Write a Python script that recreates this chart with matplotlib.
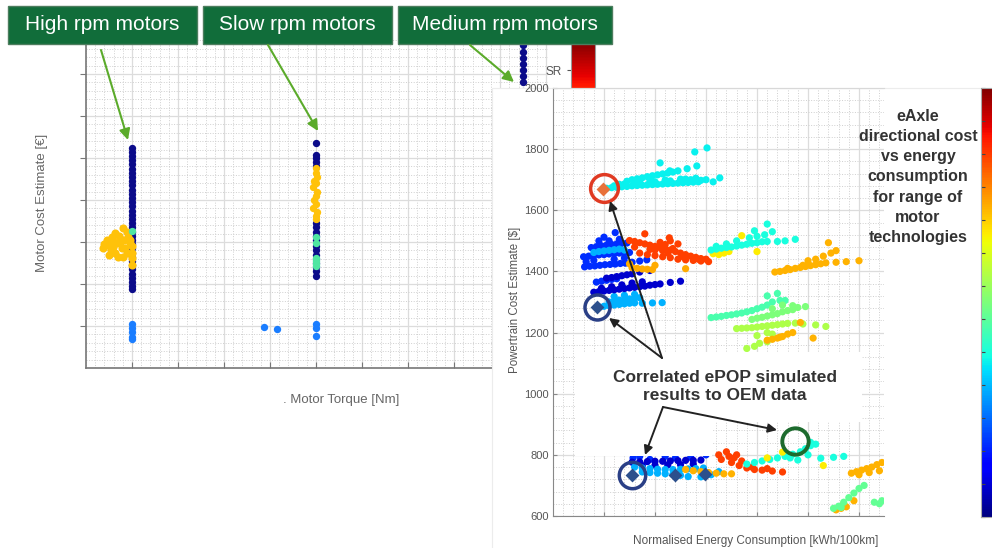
import numpy as np
import matplotlib.pyplot as plt
from matplotlib.patches import Rectangle
from matplotlib.ticker import AutoMinorLocator
from matplotlib.cm import ScalarMappable
from matplotlib.colors import Normalize

W, H = 992, 548
plt.rcParams['font.family'] = ['Liberation Sans', 'DejaVu Sans']

# ---------------- left chart: motor cost vs motor torque ----------------
high_torque, slow_torque, medium_torque = 1.0, 5.0, 9.5

high_navy_cost = [5.25, 5.15, 5.05, 4.95, 4.85, 4.75, 4.65, 4.55, 4.45, 4.35, 4.25,
                  4.15, 4.05, 3.95, 3.85, 3.75, 3.65, 3.55, 3.45, 3.35, 3.25, 3.15,
                  3.05, 2.95, 2.85, 2.75, 2.65, 2.55, 2.45, 2.35, 2.25, 2.15, 2.05,
                  1.95, 1.87]
high_gold_torque = [0.37, 0.48, 0.57, 0.63, 0.80, 0.74, 0.63, 0.50, 0.70, 0.85, 0.91,
                    0.96, 1.00, 1.00, 0.89, 0.78, 0.46, 0.59, 1.00, 1.00, 0.40, 0.55,
                    0.67, 0.72, 0.82, 0.60, 0.90, 0.80, 0.95]
high_gold_cost = [2.86, 2.93, 3.12, 3.21, 3.33, 3.00, 2.74, 2.69, 2.64, 2.86, 3.12,
                  2.98, 2.74, 2.45, 3.24, 2.86, 3.05, 2.88, 2.90, 2.62, 2.95, 2.80,
                  2.98, 3.15, 3.05, 3.00, 2.75, 2.65, 3.05]
high_mint_cost = [3.26]
high_blue_cost = [1.05, 0.95, 0.85, 0.75, 0.68]

slow_navy_cost = [5.36, 5.07, 5.00, 4.90, 4.82, 3.45, 3.35, 3.25, 3.15, 3.05, 2.90,
                  2.80, 2.70, 2.60, 2.50, 2.40, 2.30, 2.20]
slow_gold_torque = [5.00, 5.00, 5.02, 4.95, 5.00, 4.93, 5.03, 5.00, 4.95, 5.00, 4.93,
                    5.02, 5.00, 5.00]
slow_gold_cost = [4.76, 4.65, 4.55, 4.45, 4.40, 4.30, 4.20, 4.10, 4.00, 3.90, 3.80,
                  3.72, 3.62, 3.54]
slow_mint_cost = [3.12, 2.98, 2.62, 2.55, 2.48, 2.42]
slow_blue_torque = [5.0, 5.0, 5.0, 3.87, 4.15]
slow_blue_cost = [1.05, 0.95, 0.76, 0.98, 0.93]

medium_navy_cost = [7.69, 7.52, 7.38, 7.24, 7.10, 6.95, 6.81, 6.60, 6.40]

# ---------------- right chart: powertrain cost vs energy ----------------
cyan_top_x = [1.05, 1.15, 1.25, 1.35, 1.45, 1.55, 1.65, 1.75, 1.85, 1.95, 2.05, 2.15,
              2.25, 2.35, 2.45, 2.55, 2.65, 2.75, 2.85, 1.45, 1.55, 1.65, 1.75, 1.85,
              1.95, 2.05, 2.15, 2.25, 2.35, 2.45, 2.10, 2.29, 2.63, 2.82, 2.78, 3.02,
              3.27, 3.14, 2.60, 2.70, 1.30, 1.60, 1.90, 2.20, 2.50, 2.80, 3.00,
              1.20, 1.40, 1.70, 2.00, 2.30, 2.60, 2.90]
cyan_top_y = [1672, 1674, 1675, 1677, 1678, 1680, 1681, 1682, 1683, 1684, 1685, 1686,
              1687, 1688, 1689, 1690, 1691, 1692, 1693, 1695, 1700, 1703, 1706, 1710,
              1713, 1716, 1719, 1722, 1725, 1729, 1755, 1729, 1736, 1745, 1791, 1804,
              1706, 1693, 1702, 1700, 1685, 1690, 1695, 1699, 1702, 1705, 1700,
              1680, 1686, 1691, 1693, 1696, 1697, 1698]

blue_mid_x = [0.60, 0.70, 0.80, 0.90, 1.00, 1.10, 1.20, 1.30, 1.40, 1.50, 0.75, 0.85,
              0.95, 1.05, 1.15, 1.25, 1.35, 1.45, 0.62, 0.72, 0.82, 0.92, 1.02, 1.12,
              1.22, 1.32, 1.42, 1.55, 1.70, 1.84, 1.22, 1.00, 1.10, 0.90, 1.30, 0.85,
              0.95, 1.05, 1.15, 1.25, 0.65, 0.80, 1.20, 1.40]
blue_mid_y = [1448, 1450, 1452, 1454, 1455, 1457, 1458, 1460, 1461, 1462, 1478, 1481,
              1484, 1486, 1488, 1490, 1492, 1493, 1415, 1417, 1418, 1420, 1422, 1423,
              1424, 1426, 1427, 1430, 1434, 1438, 1527, 1512, 1500, 1500, 1505, 1365,
              1368, 1371, 1374, 1376, 1432, 1436, 1440, 1444]

light_blue_x = [0.80, 0.90, 1.00, 1.10, 1.20, 1.30, 1.40, 0.90, 1.00, 1.10, 1.20, 1.30,
                1.40, 1.50, 1.60, 1.75, 1.95, 2.14, 1.10, 1.20, 1.30, 1.40, 1.50, 1.60,
                1.70, 1.20, 1.40, 1.60]
light_blue_y = [1462, 1465, 1467, 1469, 1471, 1473, 1470, 1284, 1286, 1288, 1290, 1292,
                1294, 1296, 1297, 1296, 1297, 1298, 1300, 1303, 1306, 1308, 1310, 1312,
                1314, 1318, 1322, 1325]

navy_mid_x = [0.80, 0.90, 1.00, 1.10, 1.20, 1.30, 1.40, 1.50, 1.60, 1.70, 1.80, 1.90,
              2.00, 2.10, 2.30, 2.50, 1.05, 1.15, 1.25, 1.35, 1.45, 1.55, 1.70, 1.90,
              0.95, 1.15, 1.35, 1.55, 1.75]
navy_mid_y = [1332, 1334, 1336, 1338, 1340, 1342, 1344, 1346, 1348, 1350, 1352, 1355,
              1357, 1359, 1364, 1368, 1378, 1380, 1383, 1386, 1389, 1392, 1398, 1403,
              1345, 1350, 1356, 1362, 1366]

red_mid_x = [1.50, 1.60, 1.70, 1.80, 1.90, 2.00, 2.10, 2.20, 2.30, 2.40, 2.50, 2.60,
             2.70, 2.80, 2.90, 3.00, 3.05, 1.80, 2.28, 2.10, 2.30, 2.45, 2.20, 1.70,
             1.85, 2.00, 2.15, 2.30, 2.45, 2.60, 2.75, 2.90, 2.00, 2.15, 2.35,
             1.60, 1.90, 2.25, 2.55, 2.85]
red_mid_y = [1501, 1498, 1494, 1490, 1486, 1482, 1478, 1474, 1470, 1465, 1460, 1455,
             1450, 1446, 1442, 1440, 1432, 1523, 1510, 1495, 1500, 1490, 1488, 1460,
             1455, 1452, 1448, 1445, 1440, 1438, 1436, 1434, 1470, 1468, 1475,
             1480, 1472, 1460, 1448, 1440]

orange_mid_x = [1.55, 1.65, 1.75, 1.85, 1.95, 2.60, 2.00, 1.50]
orange_mid_y = [1412, 1410, 1408, 1407, 1406, 1409, 1420, 1425]

cyan_mid_x = [3.10, 3.20, 3.30, 3.40, 3.50, 3.60, 3.70, 3.80, 3.90, 4.00, 4.10, 4.20,
              4.40, 4.55, 4.75, 3.85, 4.00, 4.15, 4.30, 4.20, 3.95, 3.60, 3.40, 3.20]
cyan_mid_y = [1470, 1473, 1476, 1478, 1480, 1483, 1486, 1489, 1492, 1494, 1497, 1498,
              1498, 1500, 1505, 1510, 1515, 1520, 1530, 1555, 1533, 1500, 1490, 1482]

yellow_mid_x = [3.14, 3.25, 3.35, 3.45, 3.70, 4.00]
yellow_mid_y = [1458, 1455, 1460, 1465, 1517, 1465]

orange_right_x = [4.35, 4.45, 4.55, 4.65, 4.75, 4.85, 4.95, 5.05, 5.15, 5.25, 5.35,
                  5.00, 5.15, 5.30, 5.45, 5.55, 5.40, 5.55, 5.75, 6.00, 4.60, 4.90]
orange_right_y = [1398, 1400, 1403, 1406, 1410, 1413, 1416, 1419, 1422, 1425, 1428,
                  1435, 1440, 1450, 1460, 1468, 1494, 1430, 1432, 1435, 1410, 1420]

aqua_x = [3.10, 3.20, 3.30, 3.40, 3.50, 3.60, 3.70, 3.80, 3.90, 4.00, 4.10, 4.20,
          4.30, 4.45, 4.40, 4.20, 4.55]
aqua_y = [1249, 1251, 1253, 1256, 1258, 1261, 1264, 1268, 1272, 1278, 1283, 1290,
          1300, 1305, 1328, 1320, 1305]

green_x = [3.90, 4.00, 4.10, 4.20, 4.30, 4.40, 4.50, 4.60, 4.70, 4.80, 4.95, 4.50,
           4.70, 4.30]
green_y = [1243, 1247, 1250, 1254, 1258, 1262, 1268, 1272, 1275, 1282, 1285, 1290,
           1288, 1278]

lime_x = [3.60, 3.70, 3.80, 3.90, 4.00, 4.10, 4.20, 4.30, 4.40, 4.50, 4.60, 4.75,
          4.90, 5.15, 5.35, 4.20, 4.00, 4.30, 3.95, 3.80, 4.20, 4.05]
lime_y = [1213, 1214, 1215, 1216, 1218, 1220, 1222, 1224, 1226, 1228, 1230, 1231,
          1228, 1225, 1220, 1200, 1190, 1195, 1155, 1148, 1170, 1165]

orange_low_x = [4.20, 4.30, 4.40, 4.50, 4.60, 4.70, 4.85, 5.10, 4.45]
orange_low_y = [1175, 1178, 1182, 1187, 1195, 1200, 1233, 1182, 1185]

navy_low_x = [1.55, 1.70, 1.85, 2.00, 2.15, 2.30, 2.45, 2.60, 2.75, 2.90, 2.75, 2.50,
              2.25, 2.00, 1.75]
navy_low_y = [776, 777, 778, 779, 779, 780, 781, 782, 782, 783, 770, 768, 767, 766, 765]

light_blue_low_x = [1.60, 1.75, 1.90, 2.05, 2.20, 2.35, 2.50, 2.65, 2.80, 2.95, 1.75,
                    1.90, 2.05, 2.20, 2.35, 2.50, 2.65, 2.90, 3.10, 3.25]
light_blue_low_y = [760, 757, 755, 753, 752, 752, 753, 754, 755, 757, 744, 742, 740,
                    738, 736, 733, 729, 728, 735, 745]

blue_low_x = [1.57, 1.90, 2.40, 2.20, 2.70, 3.00, 1.70]
blue_low_y = [790, 785, 790, 795, 792, 800, 795]

orange_bot_x = [2.60, 2.75, 2.90, 3.05, 3.20, 3.35, 3.50]
orange_bot_y = [752, 748, 745, 742, 740, 738, 738]

red_low_x = [3.25, 3.40, 3.55, 3.70, 3.50, 3.65, 3.80, 3.95, 4.10, 4.30, 4.50, 3.30,
             3.45, 3.90, 4.20, 3.60]
red_low_y = [800, 810, 790, 780, 775, 765, 757, 752, 750, 747, 744, 785, 795, 760,
             755, 800]

cyan_low_x = [3.80, 3.95, 4.10, 4.25, 4.40, 4.55, 4.70, 4.85, 4.95, 5.05, 5.15, 4.65,
              5.00, 5.25, 5.50, 5.70, 4.80, 5.05]
cyan_low_y = [770, 775, 780, 785, 790, 795, 802, 810, 820, 830, 835, 790, 800, 789,
              792, 795, 783, 841]

yellow_low_x = [4.50, 5.30, 4.20]
yellow_low_y = [809, 765, 790]

orange_edge_x = [5.85, 5.95, 6.05, 6.15, 6.25, 6.35, 6.45, 6.00, 6.20, 6.40, 5.55,
                 5.65, 5.75, 5.90, 5.70]
orange_edge_y = [740, 745, 750, 755, 760, 768, 775, 735, 742, 748, 620, 625, 630,
                 650, 640]

mint_edge_x = [5.50, 5.60, 5.70, 5.80, 5.90, 6.00, 6.10, 6.30, 6.45, 5.65, 6.40]
mint_edge_y = [625, 632, 645, 660, 675, 690, 700, 645, 650, 628, 640]

# OEM reference points
oem_blue_x = [0.86, 1.55, 2.40, 2.98]
oem_blue_y = [1284, 734, 734, 738]
oem_orange_x = [0.98]
oem_orange_y = [1670]

clusters = [
    (blue_mid_x, blue_mid_y, 0.17), (light_blue_x, light_blue_y, 0.30),
    (navy_mid_x, navy_mid_y, 0.07), (orange_mid_x, orange_mid_y, 0.73),
    (red_mid_x, red_mid_y, 0.84), (cyan_top_x, cyan_top_y, 0.36),
    (yellow_mid_x, yellow_mid_y, 0.66), (cyan_mid_x, cyan_mid_y, 0.38),
    (orange_right_x, orange_right_y, 0.72), (aqua_x, aqua_y, 0.44),
    (green_x, green_y, 0.50), (lime_x, lime_y, 0.56),
    (orange_low_x, orange_low_y, 0.72), (blue_low_x, blue_low_y, 0.17),
    (navy_low_x, navy_low_y, 0.07), (light_blue_low_x, light_blue_low_y, 0.30),
    (orange_bot_x, orange_bot_y, 0.72), (red_low_x, red_low_y, 0.84),
    (cyan_low_x, cyan_low_y, 0.38), (yellow_low_x, yellow_low_y, 0.66),
    (orange_edge_x, orange_edge_y, 0.72), (mint_edge_x, mint_edge_y, 0.47),
]


def px_rect(x0, y0, x1, y1):
    return [x0 / W, 1 - y1 / H, (x1 - x0) / W, (y1 - y0) / H]


def style_grid(ax):
    ax.xaxis.set_minor_locator(AutoMinorLocator(5))
    ax.yaxis.set_minor_locator(AutoMinorLocator(5))
    ax.grid(which='major', color='#dcdcdc', lw=0.9)
    ax.grid(which='minor', color='#cfcfcf', lw=0.7, ls=':')
    ax.set_axisbelow(True)
    ax.tick_params(which='minor', length=0)


fig = plt.figure(figsize=(W / 100, H / 100), dpi=100)

# left chart
axl = fig.add_axes(px_rect(86, 40, 548, 368), zorder=1)
axl.set_xlim(0, 10.04)
axl.set_ylim(0, 7.81)
axl.set_xticks(range(1, 11))
axl.set_yticks(range(1, 8))
axl.set_xticklabels([])
axl.set_yticklabels([])
style_grid(axl)
for s in ['top', 'right']:
    axl.spines[s].set_visible(False)
for s in ['left', 'bottom']:
    axl.spines[s].set_color('#777777')
    axl.spines[s].set_linewidth(1.2)
axl.tick_params(axis='y', which='major', direction='out', length=4, color='#777777')
axl.tick_params(axis='x', which='major', direction='in', length=4, color='#777777')

navy, gold, mint, blue = '#0b0b8a', '#ffc20a', '#4fe6a2', '#1a7dff'
ms = 28
axl.scatter([high_torque] * len(high_navy_cost), high_navy_cost, s=ms, c=navy, lw=0)
axl.scatter(high_gold_torque, high_gold_cost, s=ms + 6, c=gold, lw=0)
axl.scatter([high_torque] * len(high_mint_cost), high_mint_cost, s=ms, c=mint, lw=0)
axl.scatter([high_torque] * len(high_blue_cost), high_blue_cost, s=ms, c=blue, lw=0)
axl.scatter([slow_torque] * len(slow_navy_cost), slow_navy_cost, s=ms, c=navy, lw=0)
axl.scatter(slow_gold_torque, slow_gold_cost, s=ms, c=gold, lw=0)
axl.scatter([slow_torque] * len(slow_mint_cost), slow_mint_cost, s=ms, c=mint, lw=0)
axl.scatter(slow_blue_torque, slow_blue_cost, s=ms, c=blue, lw=0)
axl.scatter([medium_torque] * len(medium_navy_cost), medium_navy_cost, s=ms, c=navy, lw=0)

# small SR colour bar of the left chart
cax_l = fig.add_axes(px_rect(571, 40, 595, 430), zorder=1)
cb_l = fig.colorbar(ScalarMappable(Normalize(0, 1), 'jet'), cax=cax_l)
cb_l.outline.set_edgecolor('#999999')
cax_l.yaxis.set_ticks_position('left')
cb_l.set_ticks([0.923])
cb_l.set_ticklabels(['SR'])
cax_l.tick_params(labelsize=8.5, labelcolor='#555555', length=3, color='#555555')

# white panel behind the right chart
ax_bg = fig.add_axes([0, 0, 1, 1], zorder=2)
ax_bg.set_xlim(0, W)
ax_bg.set_ylim(H, 0)
ax_bg.set_axis_off()
ax_bg.add_patch(Rectangle((492, 88), 520, 470, facecolor='white', edgecolor='#ececec', lw=0.8))

# right chart
axr = fig.add_axes(px_rect(553, 88, 884, 516), zorder=3)
axr.set_xlim(0, 6.49)
axr.set_ylim(600, 2000)
axr.set_xticks(range(1, 7))
axr.set_xticklabels([])
axr.set_yticks(range(600, 2001, 200))
style_grid(axr)
axr.spines['right'].set_visible(False)
for s in ['left', 'bottom']:
    axr.spines[s].set_color('#888888')
axr.spines['top'].set_color('#d8d8d8')
axr.tick_params(which='major', direction='in', length=3, color='#888888',
                labelsize=8, labelcolor='#555555', pad=3)

for xs, ys, cv in clusters:
    axr.scatter(xs, ys, s=27, c=[cv] * len(xs), cmap='jet', vmin=0, vmax=1, lw=0)

axr.scatter(oem_blue_x, oem_blue_y, marker='D', s=50, c='#2c4f8c', lw=0, zorder=4)
axr.scatter(oem_orange_x, oem_orange_y, marker='D', s=50, c='#e8713a', lw=0, zorder=4)
axr.plot(oem_orange_x[0] + 0.02, oem_orange_y[0] + 3, 'o', ms=20, mfc='none',
         mec='#e03a22', mew=2.5, zorder=5)
axr.plot(oem_blue_x[0], oem_blue_y[0], 'o', ms=18, mfc='none', mec='#2a3f86', mew=2.5, zorder=5)
axr.plot(oem_blue_x[1], oem_blue_y[1], 'o', ms=19, mfc='none', mec='#2a3f86', mew=2.5, zorder=5)
axr.plot(cyan_low_x[-1] - 0.3, cyan_low_y[-1] + 5, 'o', ms=19, mfc='none',
         mec='#1d6b2e', mew=2.8, zorder=5)

# right colour bar
cax_r = fig.add_axes(px_rect(981, 88, 1004, 517), zorder=3)
cb_r = fig.colorbar(ScalarMappable(Normalize(0, 1), 'jet'), cax=cax_r)
cb_r.outline.set_edgecolor('#aaaaaa')
cax_r.yaxis.set_ticks_position('left')
cb_r.set_ticks(np.linspace(0, 1, 14))
cax_r.set_yticklabels([])
cax_r.tick_params(direction='in', length=3, color='#444444')

# overlay: labels, callouts, arrows
ax = fig.add_axes([0, 0, 1, 1], zorder=4)
ax.set_xlim(0, W)
ax.set_ylim(H, 0)
ax.set_axis_off()
ax.patch.set_alpha(0)

ax.text(42, 203, 'Motor Cost Estimate [€]', rotation=90, ha='center', va='center',
        fontsize=9.5, color='#666666')
ax.text(341, 400, '. Motor Torque [Nm]', ha='center', va='center', fontsize=9.5,
        color='#666666')
ax.text(515, 300, 'Powertrain Cost Estimate [$]', rotation=90, ha='center',
        va='center', fontsize=8.3, color='#555555')
ax.text(756, 541, 'Normalised Energy Consumption [kWh/100km]', ha='center',
        va='center', fontsize=8.5, color='#555555')

green_box = '#116d3a'
for (x0, x1, label) in [(8, 197, 'High rpm motors'), (203, 392, 'Slow rpm motors'),
                        (398, 612, 'Medium rpm motors')]:
    ax.add_patch(Rectangle((x0, 6), x1 - x0, 38, facecolor=green_box,
                           edgecolor='#4d7d5e', lw=1))
    ax.text((x0 + x1) / 2, 25, label, ha='center', va='center', fontsize=15,
            color='white')

green_arrow = dict(arrowstyle='-|>', color='#5bab2b', lw=1.5, mutation_scale=16,
                   shrinkA=0, shrinkB=0)
ax.annotate('', xy=(128, 140), xytext=(101, 50), arrowprops=green_arrow)
ax.annotate('', xy=(318, 131), xytext=(268, 45), arrowprops=green_arrow)
ax.annotate('', xy=(514, 82), xytext=(470, 45), arrowprops=green_arrow)

ax.text(918, 177, 'eAxle\ndirectional cost\nvs energy\nconsumption\nfor range of\n'
        'motor\ntechnologies', ha='center', va='center', fontsize=11.5,
        fontweight='bold', color='#333333', linespacing=1.42)

ax.add_patch(Rectangle((575, 352), 287, 70, facecolor='white', edgecolor='none'))
ax.add_patch(Rectangle((575, 421), 137, 35, facecolor='white', edgecolor='none'))
ax.text(725, 386, 'Correlated ePOP simulated\nresults to OEM data', ha='center',
        va='center', fontsize=12.5, fontweight='bold', color='#333333',
        linespacing=1.25)

black_arrow = dict(arrowstyle='-|>', color='#222222', lw=1.4, mutation_scale=13,
                   shrinkA=0, shrinkB=0)
ax.annotate('', xy=(610, 201), xytext=(662, 358), arrowprops=black_arrow)
ax.annotate('', xy=(609, 318), xytext=(662, 358), arrowprops=black_arrow)
ax.annotate('', xy=(645, 455), xytext=(663, 407), arrowprops=black_arrow)
ax.annotate('', xy=(777, 430), xytext=(663, 407), arrowprops=black_arrow)

fig.savefig('out.png', dpi=100)
